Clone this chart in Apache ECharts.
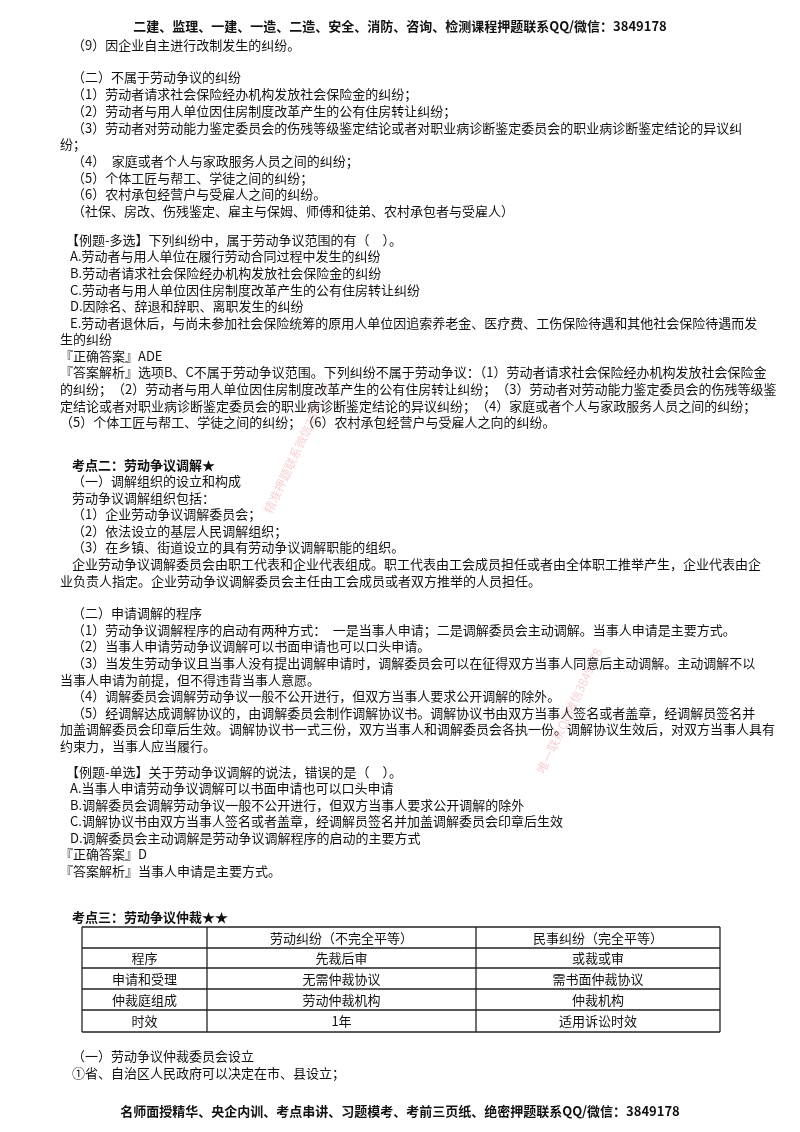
<!DOCTYPE html>
<html><head><meta charset="utf-8">
<script src="https://cdn.jsdelivr.net/npm/echarts@6/dist/echarts.min.js"></script>
<style>html,body{margin:0;padding:0;background:#fff}#c{width:800px;height:1132px}</style>
</head><body><div id="c"></div>
<script>
const headerText = "二建、监理、一建、一造、二造、安全、消防、咨询、检测课程押题联系QQ/微信：3849178";
const footerText = "名师面授精华、央企内训、考点串讲、习题模考、考前三页纸、绝密押题联系QQ/微信：3849178";
// [text, indent-level, bold]
const bodyLines = [
 ["（9）因企业自主进行改制发生的纠纷。",1,0,45],
 ["（二）不属于劳动争议的纠纷",1,0,77],
 ["（1）劳动者请求社会保险经办机构发放社会保险金的纠纷；",1,0,94],
 ["（2）劳动者与用人单位因住房制度改革产生的公有住房转让纠纷；",1,0,111],
 ["（3）劳动者对劳动能力鉴定委员会的伤残等级鉴定结论或者对职业病诊断鉴定委员会的职业病诊断鉴定结论的异议纠",1,0,128],
 ["纷；",0,0,144],
 ["（4）　家庭或者个人与家政服务人员之间的纠纷；",1,0,161],
 ["（5）个体工匠与帮工、学徒之间的纠纷；",1,0,178],
 ["（6）农村承包经营户与受雇人之间的纠纷。",1,0,194],
 ["（社保、房改、伤残鉴定、雇主与保姆、师傅和徒弟、农村承包者与受雇人）",1,0,211],
 ["【例题-多选】下列纠纷中，属于劳动争议范围的有（　）。",2,0,240],
 ["A.劳动者与用人单位在履行劳动合同过程中发生的纠纷",3,0,256],
 ["B.劳动者请求社会保险经办机构发放社会保险金的纠纷",3,0,273],
 ["C.劳动者与用人单位因住房制度改革产生的公有住房转让纠纷",3,0,290],
 ["D.因除名、辞退和辞职、离职发生的纠纷",3,0,306],
 ["E.劳动者退休后，与尚未参加社会保险统筹的原用人单位因追索养老金、医疗费、工伤保险待遇和其他社会保险待遇而发",3,0,323],
 ["生的纠纷",0,0,339],
 ["『正确答案』ADE",0,0,356],
 ["『答案解析』选项B、C不属于劳动争议范围。下列纠纷不属于劳动争议：（1）劳动者请求社会保险经办机构发放社会保险金",0,0,372],
 ["的纠纷；（2）劳动者与用人单位因住房制度改革产生的公有住房转让纠纷；（3）劳动者对劳动能力鉴定委员会的伤残等级鉴",0,0,389],
 ["定结论或者对职业病诊断鉴定委员会的职业病诊断鉴定结论的异议纠纷；（4）家庭或者个人与家政服务人员之间的纠纷；",0,0,406],
 ["（5）个体工匠与帮工、学徒之间的纠纷；（6）农村承包经营户与受雇人之向的纠纷。",0,0,422],
 ["考点二：劳动争议调解★",1,1,465],
 ["（一）调解组织的设立和构成",1,0,481],
 ["劳动争议调解组织包括：",1,0,498],
 ["（1）企业劳动争议调解委员会；",1,0,514],
 ["（2）依法设立的基层人民调解组织；",1,0,531],
 ["（3）在乡镇、街道设立的具有劳动争议调解职能的组织。",1,0,547],
 ["企业劳动争议调解委员会由职工代表和企业代表组成。职工代表由工会成员担任或者由全体职工推举产生，企业代表由企",1,0,564],
 ["业负责人指定。企业劳动争议调解委员会主任由工会成员或者双方推举的人员担任。",0,0,581],
 ["（二）申请调解的程序",1,0,613],
 ["（1）劳动争议调解程序的启动有两种方式：　一是当事人申请；二是调解委员会主动调解。当事人申请是主要方式。",1,0,630],
 ["（2）当事人申请劳动争议调解可以书面申请也可以口头申请。",1,0,646],
 ["（3）当发生劳动争议且当事人没有提出调解申请时，调解委员会可以在征得双方当事人同意后主动调解。主动调解不以",1,0,663],
 ["当事人申请为前提，但不得违背当事人意愿。",0,0,680],
 ["（4）调解委员会调解劳动争议一般不公开进行，但双方当事人要求公开调解的除外。",1,0,696],
 ["（5）经调解达成调解协议的，由调解委员会制作调解协议书。调解协议书由双方当事人签名或者盖章，经调解员签名并",1,0,713],
 ["加盖调解委员会印章后生效。调解协议书一式三份，双方当事人和调解委员会各执一份。调解协议生效后，对双方当事人具有",0,0,729],
 ["约束力，当事人应当履行。",0,0,746],
 ["【例题-单选】关于劳动争议调解的说法，错误的是（　）。",2,0,772],
 ["A.当事人申请劳动争议调解可以书面申请也可以口头申请",3,0,788],
 ["B.调解委员会调解劳动争议一般不公开进行，但双方当事人要求公开调解的除外",3,0,805],
 ["C.调解协议书由双方当事人签名或者盖章，经调解员签名并加盖调解委员会印章后生效",3,0,821],
 ["D.调解委员会主动调解是劳动争议调解程序的启动的主要方式",3,0,838],
 ["『正确答案』D",0,0,854],
 ["『答案解析』当事人申请是主要方式。",0,0,871],
 ["考点三：劳动争议仲裁★★",1,1,917],
 ["（一）劳动争议仲裁委员会设立",1,0,1056],
 ["①省、自治区人民政府可以决定在市、县设立；",1,0,1073]
];
const tableHeader = ["", "劳动纠纷（不完全平等）", "民事纠纷（完全平等）"];
const tableRows = [
 ["程序","先裁后审","或裁或审"],
 ["申请和受理","无需仲裁协议","需书面仲裁协议"],
 ["仲裁庭组成","劳动仲裁机构","仲裁机构"],
 ["时效","1年","适用诉讼时效"]
];
const watermarks = ["精准押题联系微信3849178","唯一联系QQ微信3849178"];

const FONT = '"Noto Sans CJK SC", sans-serif';
const indentX = [60,72,66,70];
const g = [];
function txt(x,y,s,opt){
  g.push({type:'text',x:x,y:y,style:Object.assign({text:s,fill:'#111',font:'13px '+FONT,textVerticalAlign:'middle'},opt||{})});
}
txt(400,26,headerText,{font:'bold 13px '+FONT,textAlign:'center'});
txt(400,1111,footerText,{font:'bold 13px '+FONT,textAlign:'center'});
bodyLines.forEach(l=>txt(indentX[l[1]],l[3],l[0],l[2]?{font:'bold 13px '+FONT}:{}));
// table
const colX=[82,207,476,720], rowY=[927,948,968,989,1010,1032];
for(const y of rowY) g.push({type:'line',shape:{x1:colX[0],y1:y,x2:colX[3],y2:y},style:{stroke:'#222',lineWidth:1.3}});
for(const x of colX) g.push({type:'line',shape:{x1:x,y1:rowY[0],x2:x,y2:rowY[5]},style:{stroke:'#222',lineWidth:1.3}});
[tableHeader].concat(tableRows).forEach((r,i)=>{
  r.forEach((c,j)=>{ if(c) txt((colX[j]+colX[j+1])/2,(rowY[i]+rowY[i+1])/2+0.5,c,{textAlign:'center'}); });
});
// watermarks
g.push({type:'text',x:262,y:510,rotation:Math.PI*0.36,style:{text:watermarks[0],fill:'rgba(230,120,130,0.35)',font:'12px '+FONT}});
g.push({type:'text',x:535,y:770,rotation:Math.PI*0.36,style:{text:watermarks[1],fill:'rgba(230,120,130,0.35)',font:'12px '+FONT}});
const chart = echarts.init(document.getElementById('c'));
chart.setOption({animation:false,graphic:{elements:g}});
</script></body></html>
